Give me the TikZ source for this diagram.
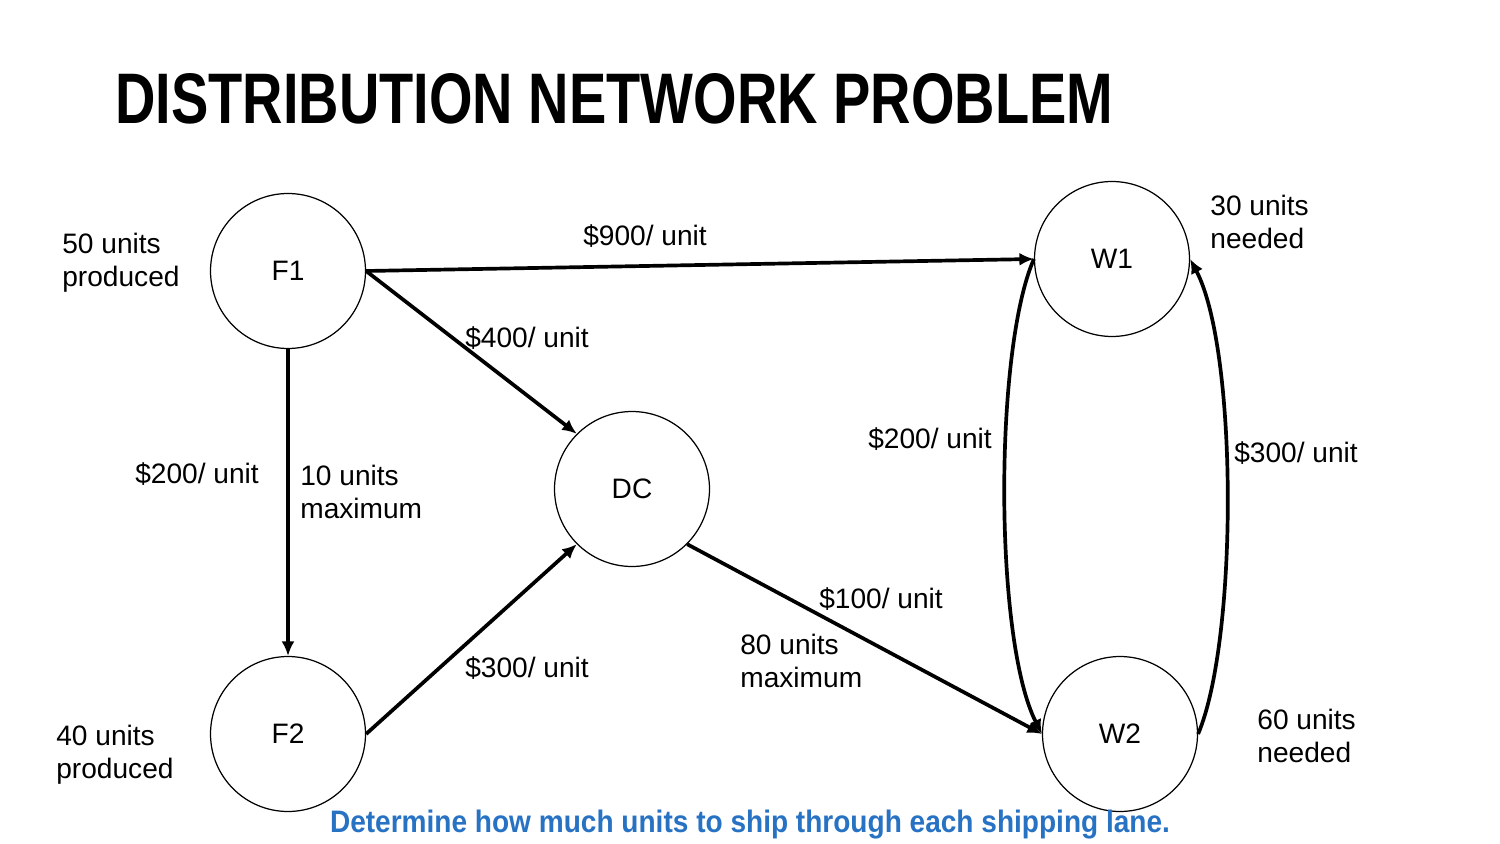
\documentclass[tikz,border=0pt]{standalone}
\usepackage{fontspec}
\setmainfont{Liberation Sans}
\usetikzlibrary{arrows.meta, positioning}
\definecolor{laneblue}{RGB}{40,114,196}

\begin{document}
\begin{tikzpicture}[
    x=0.02cm, y=-0.02cm,
    >={Latex[length=2.9mm,width=2.6mm]},
    site/.style={draw, circle, line width=0.7pt, minimum size=3.1cm, inner sep=0pt, font=\fontsize{16}{19}\selectfont},
    lane/.style={->, line width=2.1pt},
    cost/.style={inner sep=0pt, font=\fontsize{16}{19}\selectfont},
    note/.style={anchor=west, align=left, inner sep=0pt, font=\fontsize{16}{19}\selectfont}
]
\useasboundingbox (0,0) rectangle (1500,844);

% Title
\node[anchor=south west, inner sep=0pt] (title) at (115,125)
    {\resizebox{19.96cm}{1cm}{\bfseries DISTRIBUTION NETWORK PROBLEM}};

% Sites
\node[site] (F1) at (288,271) {F1};
\node[site] (F2) at (288,734) {F2};
\node[site] (DC) at (632,489) {DC};
\node[site] (W1) at (1112,259) {W1};
\node[site] (W2) at (1120,734) {W2};

% Supply and demand
\node[note] (s1) at (62,263) {50 units\\produced};
\node[note] (s2) at (56,755) {40 units\\produced};
\node[note] (d1) at (1210,222) {30 units\\needed};
\node[note] (d2) at (1257,736) {60 units\\needed};

% Shipping lanes
\draw[lane] (F1.east) -- (W1.west);
\draw[lane] (F1.east) -- (DC.north west);
\draw[lane] (F1) -- (F2);
\draw[lane] (F2.east) -- (DC.south west);
\draw[lane] (DC.south east) -- (W2.west);
\draw[lane] (W1.west) .. controls (994,350) and (994,640) .. (W2.west);
\draw[lane] (W2.east) .. controls (1238,640) and (1238,350) .. (W1.east);

% Lane costs
\node[cost] (c1) at (645,236) {\$900/ unit};
\node[cost] (c2) at (527,338) {\$400/ unit};
\node[cost] (c3) at (197,474) {\$200/ unit};
\node[note] (m1) at (300,492) {10 units\\maximum};
\node[cost] (c4) at (527,668) {\$300/ unit};
\node[cost] (c5) at (881,599) {\$100/ unit};
\node[note] (m2) at (740,661) {80 units\\maximum};
\node[cost] (c6) at (930,439) {\$200/ unit};
\node[cost] (c7) at (1296,453) {\$300/ unit};

% Task
\node[inner sep=0pt, text=laneblue] (task) at (750,825)
    {\resizebox{16.8cm}{0.45cm}{\bfseries Determine how much units to ship through each shipping lane.}};

\end{tikzpicture}
\end{document}
